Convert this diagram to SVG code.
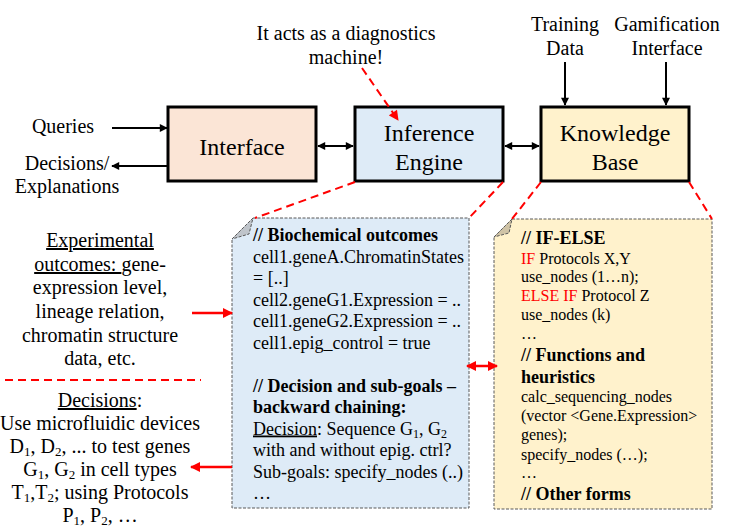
<svg xmlns="http://www.w3.org/2000/svg" width="736" height="529" viewBox="0 0 736 529" font-family="'Liberation Serif', 'DejaVu Serif', serif">
  <style>
    text, tspan { font-family: 'Liberation Serif', 'DejaVu Serif', serif; fill: #000; }
    .box { stroke: #000; stroke-width: 3; }
    .lbl { font-size: 24px; text-anchor: middle; }
    .side { font-size: 20px; text-anchor: middle; }
    .conn { stroke: #000; stroke-width: 2; fill: none; }
    .red { stroke: #FF0000; stroke-width: 2.5; fill: none; }
    .reddash { stroke: #FF0000; stroke-width: 2; fill: none; stroke-dasharray: 8 5; }
    .note { stroke: #595959; stroke-width: 1; stroke-dasharray: 3 1.5; }
    .code { font-size: 18px; }
    .code2 { font-size: 16px; }
    .b { font-weight: bold; font-size: 18px; }
    .kw { fill: #FF0000; }
    .u { text-decoration: underline; }
    .sub { font-size: 13px; }
  </style>
  <defs>
    <marker id="ah" viewBox="0 0 10 10" refX="9" refY="5" markerWidth="9" markerHeight="8" markerUnits="userSpaceOnUse" orient="auto-start-reverse">
      <path d="M0,0 L10,5 L0,10 Z" fill="#000"/>
    </marker>
    <marker id="ahr" viewBox="0 0 10 10" refX="9" refY="5" markerWidth="11" markerHeight="10" markerUnits="userSpaceOnUse" orient="auto-start-reverse">
      <path d="M0,0 L10,5 L0,10 Z" fill="#FF0000"/>
    </marker>
  </defs>

  <!-- free labels -->
  <g id="diag-label">
    <text class="side" x="346" y="40">It acts as a diagnostics</text>
    <text class="side" x="346" y="64">machine!</text>
  </g>
  <g id="training-label">
    <text class="side" x="565" y="31">Training</text>
    <text class="side" x="565" y="55">Data</text>
  </g>
  <g id="gamification-label">
    <text class="side" x="667" y="31">Gamification</text>
    <text class="side" x="667" y="55">Interface</text>
  </g>
  <g id="queries-label">
    <text class="side" x="63" y="133">Queries</text>
  </g>
  <g id="decisions-label">
    <text class="side" x="67" y="170">Decisions/</text>
    <text class="side" x="67" y="193">Explanations</text>
  </g>

  <!-- main blocks -->
  <g id="interface">
    <rect class="box" x="168" y="107" width="148" height="74" fill="#FBE5D6"/>
    <text class="lbl" x="242" y="155">Interface</text>
  </g>
  <g id="inference-engine">
    <rect class="box" x="355" y="107" width="148" height="74" fill="#DEEBF7"/>
    <text class="lbl" x="429" y="141">Inference</text>
    <text class="lbl" x="429" y="170">Engine</text>
  </g>
  <g id="knowledge-base">
    <rect class="box" x="541" y="107" width="148" height="74" fill="#FFF2CC"/>
    <text class="lbl" x="615" y="141">Knowledge</text>
    <text class="lbl" x="615" y="170">Base</text>
  </g>

  <!-- left-hand description -->
  <g id="experimental-outcomes">
    <text class="side" x="100" y="247"><tspan class="u">Experimental</tspan></text>
    <text class="side" x="100" y="271"><tspan class="u">outcomes: </tspan>gene-</text>
    <text class="side" x="100" y="294">expression level,</text>
    <text class="side" x="100" y="318">lineage relation,</text>
    <text class="side" x="100" y="342">chromatin structure</text>
    <text class="side" x="100" y="365">data, etc.</text>
  </g>
  <line class="reddash" x1="5" y1="380" x2="201" y2="380" stroke-dasharray="12 7"/>
  <g id="decisions">
    <text class="side" x="100" y="407"><tspan class="u">Decisions</tspan>:</text>
    <text class="side" x="100" y="430">Use microfluidic devices</text>
    <text class="side" x="100" y="453">D<tspan class="sub" dy="3">1</tspan><tspan dy="-3">, D</tspan><tspan class="sub" dy="3">2</tspan><tspan dy="-3">, ... to test genes</tspan></text>
    <text class="side" x="100" y="476">G<tspan class="sub" dy="3">1</tspan><tspan dy="-3">, G</tspan><tspan class="sub" dy="3">2</tspan><tspan dy="-3"> in cell types</tspan></text>
    <text class="side" x="100" y="499">T<tspan class="sub" dy="3">1</tspan><tspan dy="-3">,T</tspan><tspan class="sub" dy="3">2</tspan><tspan dy="-3">; using Protocols</tspan></text>
    <text class="side" x="100" y="522">P<tspan class="sub" dy="3">1</tspan><tspan dy="-3">, P</tspan><tspan class="sub" dy="3">2</tspan><tspan dy="-3">, …</tspan></text>
  </g>

  <!-- inference engine note -->
  <g id="inference-note">
    <path class="note" d="M253,218 L469,218 L469,508 L232,508 L232,239 Z" fill="#DEEBF7"/>
    <path d="M232,239 L253,218 L249,234 Z" fill="#BFC4CA" stroke="#595959" stroke-width="1" stroke-dasharray="3 1.5"/>
    <text class="b" x="253" y="241">// Biochemical outcomes</text>
    <text class="code" x="253" y="262.5">cell1.geneA.ChromatinStates</text>
    <text class="code" x="253" y="284">= [..]</text>
    <text class="code" x="253" y="305.5">cell2.geneG1.Expression = ..</text>
    <text class="code" x="253" y="327">cell1.geneG2.Expression = ..</text>
    <text class="code" x="253" y="348.5">cell1.epig_control = true</text>
    <text class="b" x="253" y="392">// Decision and sub-goals –</text>
    <text class="b" x="253" y="413">backward chaining:</text>
    <text class="code" x="253" y="434.5"><tspan class="u">Decision</tspan>: Sequence G<tspan font-size="12" dy="3">1</tspan><tspan dy="-3">, G</tspan><tspan font-size="12" dy="3">2</tspan></text>
    <text class="code" x="253" y="456">with and without epig. ctrl?</text>
    <text class="code" x="253" y="477.5">Sub-goals: specify_nodes (..)</text>
    <text class="code" x="253" y="499">…</text>
  </g>

  <!-- knowledge base note -->
  <g id="knowledge-note">
    <path class="note" d="M512,219 L712,219 L712,509 L494,509 L494,237 Z" fill="#FFF2CC"/>
    <path d="M494,237 L512,219 L509,233 Z" fill="#CFC3A6" stroke="#595959" stroke-width="1" stroke-dasharray="3 1.5"/>
    <text class="b" x="521" y="244">// IF-ELSE</text>
    <text class="code2" x="521" y="264"><tspan class="kw">IF</tspan> Protocols X,Y</text>
    <text class="code2" x="521" y="282">use_nodes (1…n);</text>
    <text class="code2" x="521" y="301"><tspan class="kw">ELSE IF</tspan> Protocol Z</text>
    <text class="code2" x="521" y="320">use_nodes (k)</text>
    <text class="code2" x="521" y="339">…</text>
    <text class="b" x="521" y="361">// Functions and</text>
    <text class="b" x="521" y="383">heuristics</text>
    <text class="code2" x="521" y="402">calc_sequencing_nodes</text>
    <text class="code2" x="521" y="421">(vector &lt;Gene.Expression&gt;</text>
    <text class="code2" x="521" y="440">genes);</text>
    <text class="code2" x="521" y="460">specify_nodes (…);</text>
    <text class="code2" x="521" y="478">…</text>
    <text class="b" x="521" y="500">// Other forms</text>
  </g>

  <!-- connectors -->
  <g id="connectors">
    <line class="conn" x1="112" y1="128" x2="167" y2="128" marker-end="url(#ah)"/>
    <line class="conn" x1="167" y1="166" x2="112" y2="166" marker-end="url(#ah)"/>
    <line class="conn" x1="318" y1="146" x2="353" y2="146" marker-start="url(#ah)" marker-end="url(#ah)"/>
    <line class="conn" x1="505" y1="146" x2="539" y2="146" marker-start="url(#ah)" marker-end="url(#ah)"/>
    <line class="conn" x1="565" y1="62" x2="565" y2="105" marker-end="url(#ah)"/>
    <line class="conn" x1="666" y1="62" x2="666" y2="105" marker-end="url(#ah)"/>

    <line class="reddash" x1="362" y1="68" x2="398" y2="120" marker-end="url(#ahr)"/>
    <line class="reddash" x1="355" y1="182" x2="255" y2="218"/>
    <line class="reddash" x1="503" y1="182" x2="469" y2="218"/>
    <line class="reddash" x1="541" y1="182" x2="512" y2="219"/>
    <line class="reddash" x1="689" y1="182" x2="712" y2="219"/>

    <line class="red" x1="192" y1="313" x2="232" y2="313" marker-end="url(#ahr)"/>
    <line class="red" x1="232" y1="467" x2="191" y2="467" marker-end="url(#ahr)"/>
    <line class="red" x1="467" y1="366" x2="497" y2="366" marker-start="url(#ahr)" marker-end="url(#ahr)"/>
  </g>
</svg>
